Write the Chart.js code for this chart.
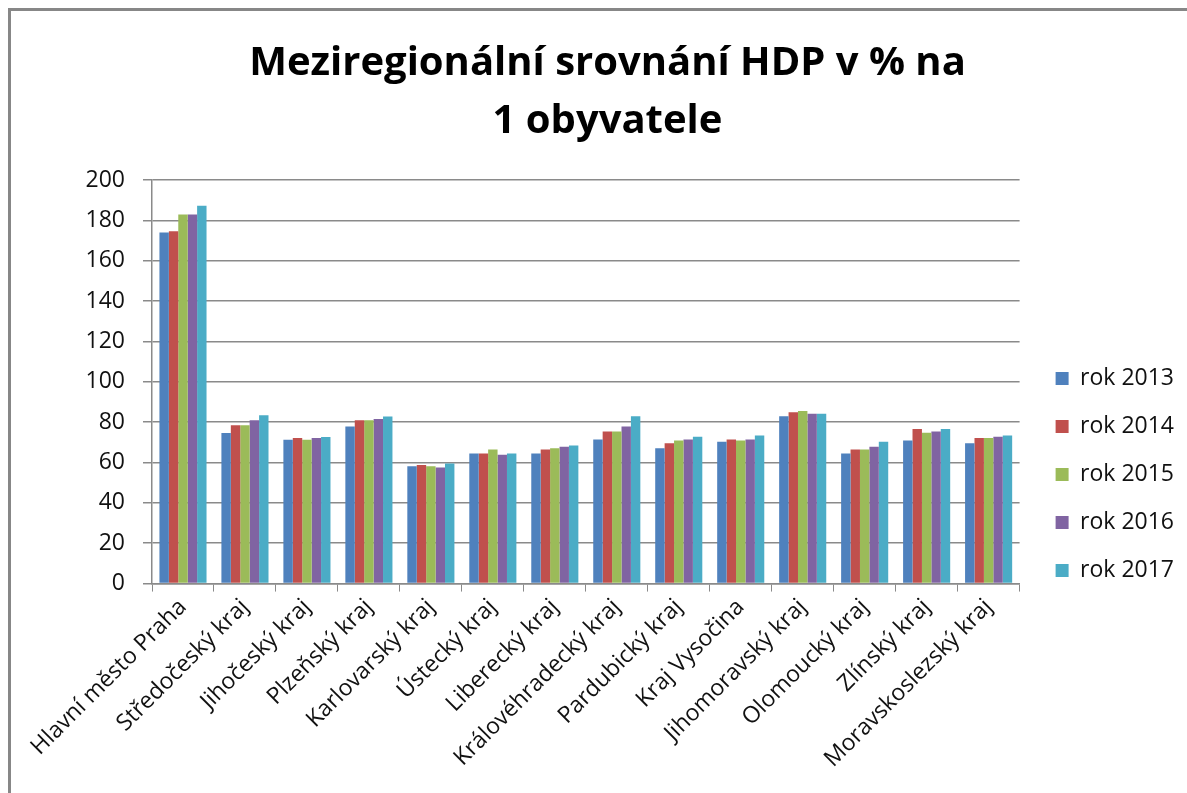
<!DOCTYPE html>
<html lang="cs">
<head>
<meta charset="utf-8">
<title>Meziregionální srovnání HDP v % na 1 obyvatele</title>
<script src="https://cdn.jsdelivr.net/npm/chart.js@4/dist/chart.umd.min.js"></script>
<style>
  html, body { margin: 0; padding: 0; background: #fff; overflow: hidden; }
  .wrap { position: relative; width: 1187px; height: 793px; }
  .frame {
    position: absolute; left: 8px; top: 8px; right: -10px; bottom: -10px;
    border: 3px solid #878787; pointer-events: none;
  }
  canvas { position: absolute; left: 0; top: 0; }
</style>
</head>
<body>
<div class="wrap">
  <canvas id="chart" width="1187" height="793"></canvas>
  <div class="frame"></div>
</div>
<script>
const TITLE = ['Meziregionální srovnání HDP v % na', '1 obyvatele'];

const REGIONS = [
  'Hlavní město Praha', 'Středočeský kraj', 'Jihočeský kraj', 'Plzeňský kraj',
  'Karlovarský kraj', 'Ústecký kraj', 'Liberecký kraj', 'Královéhradecký kraj',
  'Pardubický kraj', 'Kraj Vysočina', 'Jihomoravský kraj', 'Olomoucký kraj',
  'Zlínský kraj', 'Moravskoslezský kraj',
];

const YEARS = ['rok 2013', 'rok 2014', 'rok 2015', 'rok 2016', 'rok 2017'];

const ROK_2013 = [174, 74.6, 71.3, 77.8, 58.1, 64.5, 64.5, 71.4, 67.1, 70.3, 82.9, 64.5, 70.9, 69.6];
const ROK_2014 = [174.6, 78.4, 72.1, 80.9, 58.8, 64.5, 66.4, 75.4, 69.6, 71.4, 84.9, 66.4, 76.6, 72.1];
const ROK_2015 = [182.9, 78.4, 71.3, 80.9, 58.1, 66.4, 67.1, 75.4, 70.9, 70.9, 85.5, 66.4, 74.8, 72.1];
const ROK_2016 = [182.9, 80.9, 72.1, 81.6, 57.5, 63.8, 67.8, 77.9, 71.4, 71.4, 84.2, 67.8, 75.4, 72.8];
const ROK_2017 = [187.2, 83.4, 72.6, 82.8, 59.5, 64.5, 68.4, 82.9, 72.8, 73.4, 84.2, 70.3, 76.6, 73.4];

const Y_MIN = 0;
const Y_MAX = 200;
const Y_STEP = 20;

const PALETTE = ['#4f81bd', '#c0504d', '#9bbb59', '#8064a2', '#4bacc6'];
const GRID_COLOR = '#8a8a8a';
const TEXT_COLOR = '#111';
const FONT = "'Open Sans', 'DejaVu Sans', sans-serif";

// Excel keeps its legend lower and further right than Chart.js does
const LEGEND_SHIFT = { x: 11, y: 84 };

const SERIES = [ROK_2013, ROK_2014, ROK_2015, ROK_2016, ROK_2017];

const datasets = SERIES.map((data, i) => ({
  label: YEARS[i],
  data,
  backgroundColor: PALETTE[i],
  borderWidth: 0,
  barPercentage: 1,
  categoryPercentage: 0.76,
}));

const legendShift = {
  id: 'legendShift',
  afterLayout(chart) {
    const lg = chart.legend;
    if (!lg) return;
    lg.left += LEGEND_SHIFT.x;
    lg.right += LEGEND_SHIFT.x;
    lg.top += LEGEND_SHIFT.y;
    lg.bottom += LEGEND_SHIFT.y;
  },
};

new Chart(document.getElementById('chart'), {
  type: 'bar',
  data: { labels: REGIONS, datasets },
  plugins: [legendShift],
  options: {
    responsive: false,
    animation: false,
    devicePixelRatio: 1,
    layout: { padding: { left: 42, right: 14, top: 6, bottom: 18 } },
    plugins: {
      title: {
        display: true,
        text: TITLE,
        color: '#000',
        font: { family: FONT, size: 40, weight: 'bold', lineHeight: 1.45 },
        padding: { top: 29, bottom: 29 },
      },
      legend: {
        position: 'right',
        align: 'center',
        labels: {
          color: TEXT_COLOR,
          font: { family: FONT, size: 23 },
          boxWidth: 13,
          boxHeight: 13,
          padding: 25,
        },
      },
      tooltip: { enabled: false },
    },
    scales: {
      x: {
        grid: {
          offset: true,
          drawOnChartArea: false,
          color: GRID_COLOR,
          tickLength: 8,
        },
        border: { color: GRID_COLOR, width: 1.5 },
        ticks: {
          color: TEXT_COLOR,
          font: { family: FONT, size: 23 },
          maxRotation: 45,
          minRotation: 45,
          autoSkip: false,
          padding: 2,
        },
      },
      y: {
        min: Y_MIN,
        max: Y_MAX,
        afterFit(scale) { scale.width = 110; },
        grid: { color: GRID_COLOR, lineWidth: 1.5, tickLength: 9 },
        border: { color: GRID_COLOR, width: 1.5 },
        ticks: {
          stepSize: Y_STEP,
          color: TEXT_COLOR,
          font: { family: FONT, size: 23 },
          padding: 18,
        },
      },
    },
  },
});
</script>
</body>
</html>
